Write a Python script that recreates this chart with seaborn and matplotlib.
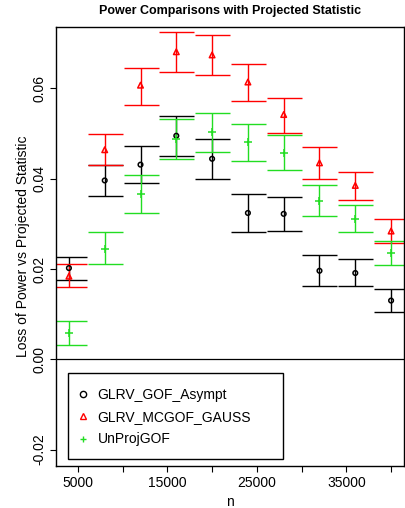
import matplotlib
matplotlib.use("Agg")
import matplotlib.pyplot as plt
from matplotlib.lines import Line2D
from matplotlib.patches import Rectangle
import seaborn as sns

sns.set_style("white")
plt.rcParams["font.family"] = ["Liberation Sans", "DejaVu Sans"]
plt.rcParams["text.color"] = "black"
plt.rcParams["axes.labelcolor"] = "black"
plt.rcParams["xtick.color"] = "black"
plt.rcParams["ytick.color"] = "black"

n = [4000, 8000, 12000, 16000, 20000, 24000, 28000, 32000, 36000, 40000]

# GLRV_GOF_Asympt
asympt = [0.0202, 0.0396, 0.0431, 0.0495, 0.0444, 0.0324, 0.0322, 0.0196, 0.0191, 0.0130]
asympt_lo = [0.0176, 0.0361, 0.0390, 0.0451, 0.0400, 0.0282, 0.0284, 0.0162, 0.0162, 0.0104]
asympt_hi = [0.0227, 0.0430, 0.0472, 0.0538, 0.0488, 0.0365, 0.0359, 0.0230, 0.0221, 0.0155]

# GLRV_MCGOF_GAUSS
gauss = [0.0184, 0.0464, 0.0607, 0.0681, 0.0674, 0.0614, 0.0542, 0.0435, 0.0385, 0.0284]
gauss_lo = [0.0159, 0.0430, 0.0564, 0.0637, 0.0629, 0.0571, 0.0502, 0.0399, 0.0353, 0.0258]
gauss_hi = [0.0212, 0.0498, 0.0646, 0.0724, 0.0718, 0.0655, 0.0579, 0.0469, 0.0415, 0.0310]

# UnProjGOF
unproj = [0.0058, 0.0244, 0.0366, 0.0487, 0.0503, 0.0481, 0.0457, 0.0351, 0.0310, 0.0236]
unproj_lo = [0.0031, 0.0210, 0.0325, 0.0443, 0.0459, 0.0439, 0.0419, 0.0317, 0.0281, 0.0209]
unproj_hi = [0.0085, 0.0281, 0.0407, 0.0531, 0.0546, 0.0522, 0.0496, 0.0386, 0.0342, 0.0262]

series = [
    ("GLRV_GOF_Asympt", asympt, asympt_lo, asympt_hi, "black", "o", 11),
    ("GLRV_MCGOF_GAUSS", gauss, gauss_lo, gauss_hi, "#ff0000", "^", 16),
    ("UnProjGOF", unproj, unproj_lo, unproj_hi, "#22dd22", "+", 26),
]

fig = plt.figure(figsize=(4.06, 5.08), dpi=100)
ax = fig.add_axes([0.138, 0.083, 0.857, 0.864])

handles = []
for name, mid, lo, hi, col, mk, size in series:
    yerr = [[m - l for m, l in zip(mid, lo)], [h - m for m, h in zip(mid, hi)]]
    ax.errorbar(n, mid, yerr=yerr, fmt="none", ecolor=col, elinewidth=1,
                capsize=12.6, capthick=1, zorder=2)
    sns.scatterplot(x=n, y=mid, marker=mk, color=col, s=size, linewidth=1.1,
                    ax=ax, zorder=3)
    pts = ax.collections[-1]
    if mk != "+":
        pts.set_facecolor("none")
        pts.set_edgecolor(col)
    handles.append(Line2D([], [], linestyle="none", marker=mk, color=col,
                          markerfacecolor="none", markersize=4.5, label=name))

ax.axhline(0, color="black", lw=0.9, zorder=1)

ax.set_xlim(2560, 41440)
ax.set_ylim(-0.0236, 0.0736)
ax.set_xticks([5000, 10000, 15000, 20000, 25000, 30000, 35000, 40000])
ax.set_xticklabels(["5000", "", "15000", "", "25000", "", "35000", ""])
ax.set_yticks([-0.02, 0.0, 0.02, 0.04, 0.06])
ax.set_yticklabels(["-0.02", "0.00", "0.02", "0.04", "0.06"], rotation=90, va="center")
ax.tick_params(axis="both", direction="out", length=4, width=0.8, color="black",
               labelsize=10, pad=3, left=True, bottom=True)
for sp in ax.spines.values():
    sp.set_color("black")
    sp.set_linewidth(1)

ax.set_xlabel("n", fontsize=10, labelpad=4)
ax.set_ylabel("Loss of Power vs Projected Statistic", fontsize=10, labelpad=2)
ax.set_title("Power Comparisons with Projected Statistic", fontsize=9,
             fontweight="bold", pad=9)

ax.add_patch(Rectangle((0.0345, 0.016), 0.618, 0.196, transform=ax.transAxes,
                       fill=False, edgecolor="black", lw=1, zorder=4))
ax.legend(handles=handles, loc="upper left", bbox_to_anchor=(0.0575, 0.178),
          frameon=False, borderpad=0, borderaxespad=0, handlelength=1.0,
          handletextpad=0.54, labelspacing=0.6, fontsize=10)

fig.savefig("out.png", dpi=100)
